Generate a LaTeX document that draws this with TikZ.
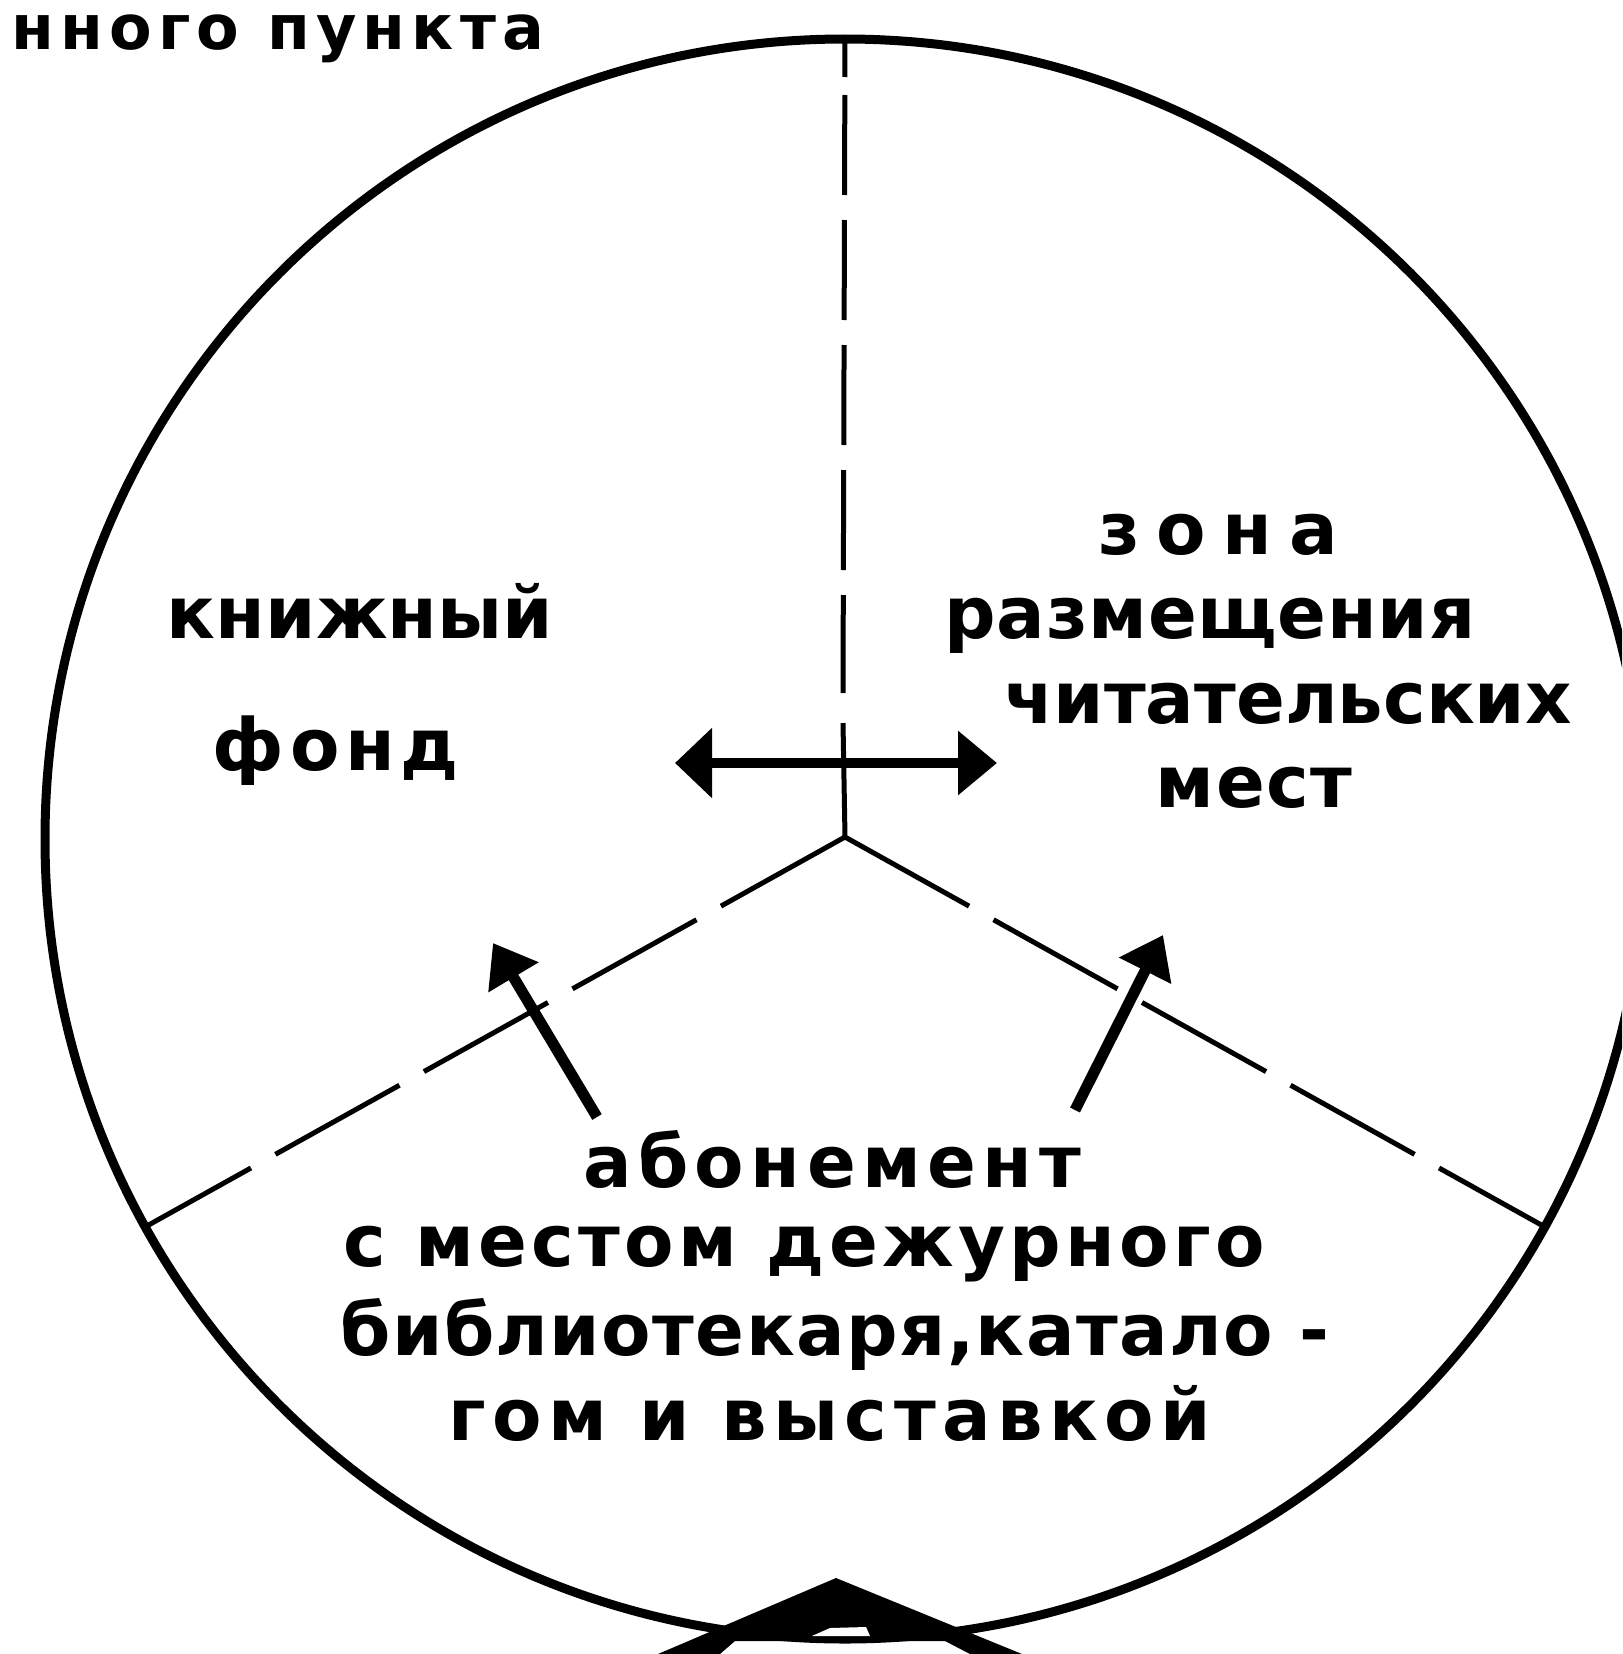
\documentclass[tikz,border=0pt]{standalone}
\usepackage{fontspec}
\setmainfont{DejaVu Sans}
\newfontfamily\lblfont{DejaVu Sans Bold}
\usetikzlibrary{arrows.meta}
\begin{document}
\begin{tikzpicture}[x=1pt,y=-1pt,
  lbl/.style={font=\lblfont\fontsize{72}{84}\selectfont\addfontfeature{LetterSpace=#1}, inner sep=0pt, anchor=base},
  toplbl/.style={font=\lblfont\fontsize{62}{70}\selectfont\addfontfeature{LetterSpace=#1}, inner sep=0pt, anchor=base west},
  divline/.style={line width=5pt, line cap=butt},
  thickarrow/.style={line width=11pt, -{Triangle[width=56pt,length=40pt]}},
]
\useasboundingbox (0,0) rectangle (1622,1654);
\clip (0,0) rectangle (1622,1654);
\fill[white] (0,0) rectangle (1622,1654);

% room outline
\node[circle, draw, line width=9pt, minimum size=1600pt, inner sep=0pt, outer sep=0pt] (room) at (845,839) {};

% junction and division lines
\coordinate (j) at (845,837);
\coordinate (vgap) at (843,693);
\coordinate (vsolid) at (843,723);
\draw[divline, dash pattern=on 38pt off 18pt on 100pt off 25pt on 100pt off 25pt on 100pt off 25pt on 100pt off 25pt on 100pt off 200pt] (room.90) -- (vgap);
\draw[divline] (vsolid) -- (j);
\draw[divline, dash pattern=on 142pt off 28pt] (j) -- (room.209);
\draw[divline, dash pattern=on 142pt off 28pt] (j) -- (room.331);

% double arrow
\coordinate (dl) at (675,763);
\coordinate (dr) at (997,763);
\draw[line width=10pt, {Triangle[width=68pt,length=37pt]}-{Triangle[width=62pt,length=39pt]}] (dl) -- (dr);

% arrows from the lending desk
\coordinate (a1s) at (597,1117);
\coordinate (a1e) at (493,943);
\coordinate (a2s) at (1075,1110);
\coordinate (a2e) at (1163,935);
\draw[thickarrow] (a1s) -- (a1e);
\draw[thickarrow] (a2s) -- (a2e);

% entrance chevron
\fill[black] (836,1578) -- (1022,1654) -- (970,1654) -- (945,1641) -- (735,1641) -- (720,1654) -- (658,1654) -- cycle;
\fill[white] (812,1636) -- (830,1628) -- (866,1627) -- (870,1636) -- cycle;

% texts
\node[toplbl=10] (ttop) at (11,50) {нного пункта};
\node[lbl=0] (tkn) at (360,638) {книжный};
\node[lbl=8] (tfo) at (336,770) {фонд};
\node[lbl=23] (tzo) at (1218,554) {зона};
\node[lbl=1] (tra) at (1210,638) {размещения};
\node[lbl=0] (tch) at (1288,723) {читательских};
\node[lbl=2] (tme) at (1254,807) {мест};
\node[lbl=9] (tab) at (832,1187) {абонемент};
\node[lbl=6] (tsm) at (804,1266) {с местом дежурного};
\node[lbl=2] (tbi) at (835,1355) {библиотекаря,катало -};
\node[lbl=9] (tgo) at (830,1440) {гом и выставкой};
\end{tikzpicture}
\end{document}
